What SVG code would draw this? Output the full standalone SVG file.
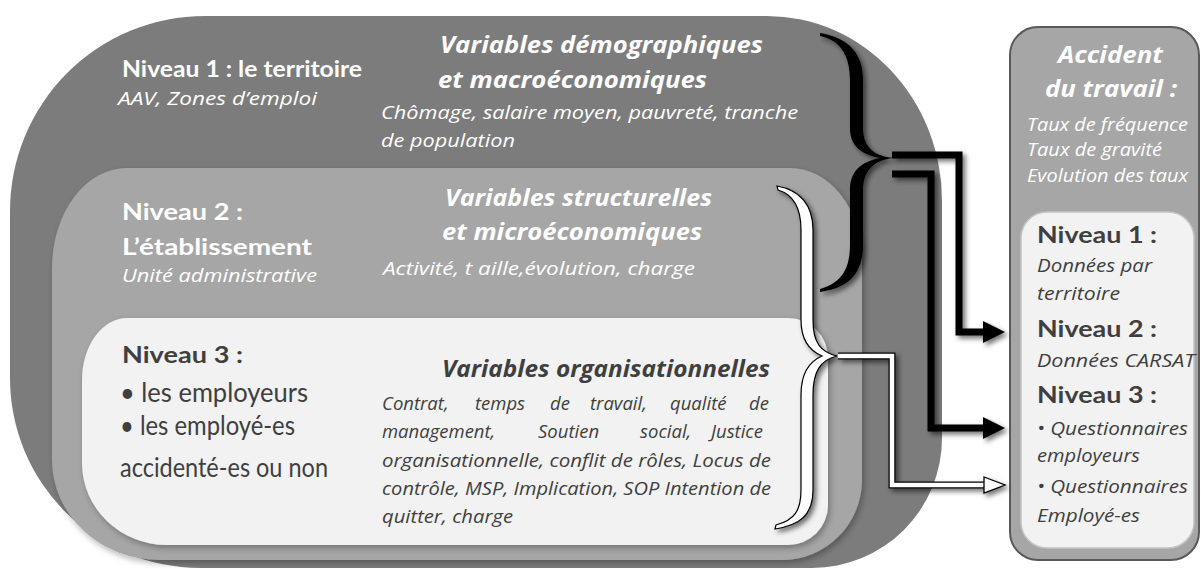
<svg xmlns="http://www.w3.org/2000/svg" width="1201" height="574" viewBox="0 0 1201 574">
<defs>
<filter id="sh" x="-20%" y="-20%" width="150%" height="150%"><feDropShadow dx="3" dy="3" stdDeviation="2.5" flood-color="#000" flood-opacity="0.55"/></filter>
<filter id="sh2" x="-10%" y="-10%" width="130%" height="130%"><feDropShadow dx="2" dy="3" stdDeviation="3" flood-color="#000" flood-opacity="0.3"/></filter>
<marker id="ab" markerUnits="userSpaceOnUse" markerWidth="24" markerHeight="26" refX="0" refY="12" orient="auto" overflow="visible"><path d="M0,1 L22,12 L0,23 Z" fill="#000"/></marker>
<marker id="aw" markerUnits="userSpaceOnUse" markerWidth="24" markerHeight="26" refX="0" refY="11" orient="auto" overflow="visible"><path d="M0,3 L21,11 L0,19 Z" fill="#fff" stroke="#000" stroke-width="1.3" stroke-linejoin="miter"/></marker>
</defs>
<style>
.hb{font-family:Lato,"Open Sans",sans-serif;font-weight:bold;font-size:23px}
.hr{font-family:Lato,"Open Sans",sans-serif;font-size:27px}
.it{font-family:"Open Sans","Noto Sans",sans-serif;font-style:italic;font-size:18.5px}
.bi{font-family:"Open Sans","Noto Sans",sans-serif;font-style:italic;font-weight:bold;font-size:24px}
.w{fill:#ffffff}
.d{fill:#3f3f3f}
</style>
<g id="niveau1">
<path d="M205,16 H767 A175,185 0 0 1 942,201 V438 A130,130 0 0 1 812,568 H200 A190,190 0 0 1 10,378 V211 A195,195 0 0 1 205,16 Z" fill="#7c7c7c"/>
<text class="hb w" x="122" y="77" textLength="240" lengthAdjust="spacingAndGlyphs">Niveau 1 : le territoire</text>
<text class="it w" x="118" y="105" textLength="199" lengthAdjust="spacingAndGlyphs">AAV, Zones d’emploi</text>
<text class="bi w" x="440" y="53" textLength="323" lengthAdjust="spacingAndGlyphs">Variables démographiques</text>
<text class="bi w" x="438" y="88" textLength="269" lengthAdjust="spacingAndGlyphs">et macroéconomiques</text>
<text class="it w" x="381" y="119" textLength="417" lengthAdjust="spacingAndGlyphs">Chômage, salaire moyen, pauvreté, tranche</text>
<text class="it w" x="381" y="147" textLength="134" lengthAdjust="spacingAndGlyphs">de population</text>
</g>
<g id="niveau2">
<path d="M127,168 H790 A72,92 0 0 1 862,260 V480 A80,80 0 0 1 782,560 H160 A108,100 0 0 1 52,460 V268 A75,100 0 0 1 127,168 Z" fill="#a6a6a6" filter="url(#sh2)"/>
<text class="hb w" x="122" y="220" textLength="121" lengthAdjust="spacingAndGlyphs">Niveau 2 :</text>
<text class="hb w" x="122" y="255" textLength="190" lengthAdjust="spacingAndGlyphs">L’établissement</text>
<text class="it w" x="122" y="282" textLength="195" lengthAdjust="spacingAndGlyphs">Unité administrative</text>
<text class="bi w" x="445" y="206" textLength="267" lengthAdjust="spacingAndGlyphs">Variables structurelles</text>
<text class="bi w" x="442" y="240" textLength="260" lengthAdjust="spacingAndGlyphs">et microéconomiques</text>
<text class="it w" x="383" y="275" textLength="312" lengthAdjust="spacingAndGlyphs">Activité, t aille,évolution, charge</text>
</g>
<g id="niveau3">
<path d="M127,318 H788 A40,40 0 0 1 828,358 V505 A40,40 0 0 1 788,545 H167 A85,82 0 0 1 82,463 V380 A45,62 0 0 1 127,318 Z" fill="#f2f2f2" filter="url(#sh2)"/>
<text class="hb d" x="122" y="363" textLength="121" lengthAdjust="spacingAndGlyphs">Niveau 3 :</text>
<text class="hr d" x="120" y="402" textLength="188" lengthAdjust="spacingAndGlyphs">• les employeurs</text>
<text class="hr d" x="120" y="435" textLength="175" lengthAdjust="spacingAndGlyphs">• les employé-es</text>
<text class="hr d" x="120" y="477" textLength="208" lengthAdjust="spacingAndGlyphs">accidenté-es ou non</text>
<text class="bi d" x="442" y="377" textLength="328" lengthAdjust="spacingAndGlyphs">Variables organisationnelles</text>
<text class="it d" y="410"><tspan x="382">Contrat,</tspan><tspan x="475">temps</tspan><tspan x="550">de</tspan><tspan x="590">travail,</tspan><tspan x="670">qualité</tspan><tspan x="749">de</tspan></text>
<text class="it d" y="438"><tspan x="382">management,</tspan><tspan x="538">Soutien</tspan><tspan x="640">social,</tspan><tspan x="711">Justice</tspan></text>
<text class="it d" x="382" y="467" textLength="389" lengthAdjust="spacingAndGlyphs">organisationnelle, conflit de rôles, Locus de</text>
<text class="it d" x="382" y="495" textLength="389" lengthAdjust="spacingAndGlyphs">contrôle, MSP, Implication, SOP Intention de</text>
<text class="it d" x="382" y="523" textLength="131" lengthAdjust="spacingAndGlyphs">quitter, charge</text>
</g>
<g id="accident">
<rect x="1010" y="27" width="189" height="533" rx="28" fill="#a6a6a6" stroke="#595959" stroke-width="2"/>
<text class="bi w" x="1058" y="63" textLength="105" lengthAdjust="spacingAndGlyphs">Accident</text>
<text class="bi w" x="1045" y="97" textLength="132" lengthAdjust="spacingAndGlyphs">du travail :</text>
<text class="it w" x="1027" y="131" textLength="161" lengthAdjust="spacingAndGlyphs">Taux de fréquence</text>
<text class="it w" x="1027" y="156" textLength="135" lengthAdjust="spacingAndGlyphs">Taux de gravité</text>
<text class="it w" x="1027" y="182" textLength="161" lengthAdjust="spacingAndGlyphs">Evolution des taux</text>
<rect x="1021" y="212" width="173" height="336" rx="26" fill="#f2f2f2" stroke="#c4c4c4" stroke-width="1.5"/>
<text class="hb d" x="1037" y="243" textLength="120" lengthAdjust="spacingAndGlyphs">Niveau 1 :</text>
<text class="it d" x="1037" y="272" textLength="115" lengthAdjust="spacingAndGlyphs">Données par</text>
<text class="it d" x="1037" y="300" textLength="83" lengthAdjust="spacingAndGlyphs">territoire</text>
<text class="hb d" x="1037" y="337" textLength="120" lengthAdjust="spacingAndGlyphs">Niveau 2 :</text>
<text class="it d" x="1037" y="367" textLength="158" lengthAdjust="spacingAndGlyphs">Données CARSAT</text>
<text class="hb d" x="1037" y="403" textLength="120" lengthAdjust="spacingAndGlyphs">Niveau 3 :</text>
<text class="it d" x="1037" y="435" textLength="151" lengthAdjust="spacingAndGlyphs">• Questionnaires</text>
<text class="it d" x="1037" y="462" textLength="103" lengthAdjust="spacingAndGlyphs">employeurs</text>
<text class="it d" x="1037" y="493" textLength="151" lengthAdjust="spacingAndGlyphs">• Questionnaires</text>
<text class="it d" x="1037" y="522" textLength="103" lengthAdjust="spacingAndGlyphs">Employé-es</text>
</g>
<g id="connectors">
<path id="brace1" d="M820,33 C850,38 863,55 863,80 L863,128 C863,148 875,156 893,158 C875,160 863,170 863,190 L863,245 C863,272 850,288 820,292 L820,289 C842,283 850,268 850,245 L850,190 C850,172 860,162 880,158 C860,154 850,145 850,128 L850,80 C850,58 842,40 820,36 Z" fill="#000" filter="url(#sh)"/>
<path id="brace2" d="M777,186 C800,190 813,205 813,230 L813,320 C813,342 820,352 837,356 C820,360 813,372 813,395 L813,490 C813,515 800,525 775,529 L776,525 C795,520 801,510 801,490 L801,395 C801,375 808,362 822,356 C808,350 801,338 801,320 L801,230 C801,210 795,195 778,190 Z" fill="#fff" stroke="#000" stroke-width="1.2" filter="url(#sh)"/>
<g filter="url(#sh)" fill="none">
<path d="M892,155 H959 V332 H983" stroke="#000" stroke-width="7" stroke-linejoin="miter" marker-end="url(#ab)"/>
<path d="M892,174 H931 V428 H983" stroke="#000" stroke-width="7" stroke-linejoin="miter" marker-end="url(#ab)"/>
<path d="M838,356 H892 V485 H984" stroke="#000" stroke-width="7" stroke-linejoin="miter"/>
<path d="M838,356 H892 V485 H984" stroke="#fff" stroke-width="4.5" stroke-linejoin="miter" marker-end="url(#aw)"/>
</g>
</g>
</svg>
